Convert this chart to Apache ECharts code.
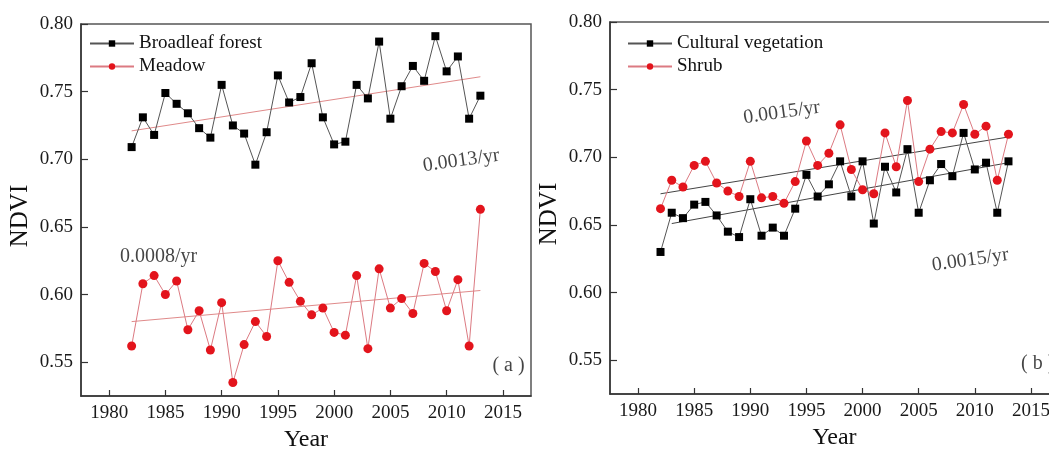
<!DOCTYPE html>
<html><head><meta charset="utf-8">
<script src="https://cdn.jsdelivr.net/npm/echarts@6/dist/echarts.min.js"></script>
<style>html,body{margin:0;padding:0;background:#fff;overflow:hidden}#c{width:1049px;height:449px}</style>
</head><body><div id="c"></div>
<script>
// ---- data ----
const years = [1982,1983,1984,1985,1986,1987,1988,1989,1990,1991,1992,1993,1994,1995,1996,1997,1998,1999,2000,2001,2002,2003,2004,2005,2006,2007,2008,2009,2010,2011,2012,2013];
const broadleaf = [0.709,0.731,0.718,0.749,0.741,0.734,0.723,0.716,0.755,0.725,0.719,0.696,0.720,0.762,0.742,0.746,0.771,0.731,0.711,0.713,0.755,0.745,0.787,0.730,0.754,0.769,0.758,0.791,0.765,0.776,0.730,0.747];
const meadow = [0.562,0.608,0.614,0.600,0.610,0.574,0.588,0.559,0.594,0.535,0.563,0.580,0.569,0.625,0.609,0.595,0.585,0.590,0.572,0.570,0.614,0.560,0.619,0.590,0.597,0.586,0.623,0.617,0.588,0.611,0.562,0.663];
const cultural = [0.630,0.659,0.655,0.665,0.667,0.657,0.645,0.641,0.669,0.642,0.648,0.642,0.662,0.687,0.671,0.680,0.697,0.671,0.697,0.651,0.693,0.674,0.706,0.659,0.683,0.695,0.686,0.718,0.691,0.696,0.659,0.697];
const shrub = [0.662,0.683,0.678,0.694,0.697,0.681,0.675,0.671,0.697,0.670,0.671,0.666,0.682,0.712,0.694,0.703,0.724,0.691,0.676,0.673,0.718,0.693,0.742,0.682,0.706,0.719,0.718,0.739,0.717,0.723,0.683,0.717];
// trend line end points
const broadleafTrend = [[1982,0.721],[2013,0.761]];
const meadowTrend = [[1982,0.580],[2013,0.603]];
const shrubTrend = [[1982,0.673],[2013,0.715]];
const culturalTrend = [[1983,0.651],[2013,0.696]];
// tick labels
const xTicks = [1980,1985,1990,1995,2000,2005,2010,2015];
const yTicks = [0.55,0.60,0.65,0.70,0.75,0.80];
// annotations [x, y, text, rotation]
const notesA = [[2011.3,0.699,'0.0013/yr',8],[1984.4,0.628,'0.0008/yr',0],[2015.5,0.547,'( a )',0]];
const notesB = [[1992.8,0.733,'0.0015/yr',8],[2009.6,0.624,'0.0015/yr',8],[2015.6,0.547,'( b )',0]];

const FONT = 'Liberation Serif';
const pair = (vals) => years.map((y,i)=>[y, vals[i]]);

function xAxis(g){
  return {type:'value', gridIndex:g, min:1977.5, max:2017.5,
    axisLine:{onZero:false, lineStyle:{color:'#333', width:1.5}},
    axisTick:{inside:true, length:6, customValues:xTicks, lineStyle:{color:'#333', width:1.2}},
    axisLabel:{customValues:xTicks, formatter:(v)=>String(Math.round(v)), fontFamily:FONT, fontSize:19, color:'#1a1a1a', margin:8},
    splitLine:{show:false},
    name:'Year', nameLocation:'middle', nameGap:32,
    nameTextStyle:{fontFamily:FONT, fontSize:24, color:'#111'}};
}
function yAxis(g){
  return {type:'value', gridIndex:g, min:0.525, max:0.80,
    axisLine:{show:true, onZero:false, lineStyle:{color:'#333', width:1.5}},
    axisTick:{show:true, inside:true, length:7, customValues:yTicks, lineStyle:{color:'#333', width:1.2}},
    axisLabel:{customValues:yTicks, formatter:(v)=>Number(v).toFixed(2), fontFamily:FONT, fontSize:19, color:'#1a1a1a', margin:8},
    splitLine:{show:false},
    name:'NDVI', nameLocation:'middle', nameGap:48, nameRotate:90,
    nameTextStyle:{fontFamily:FONT, fontSize:25, color:'#111', padding:[0,0,0,-12]}};
}
function dataSeries(name, vals, g, sym, size, markColor, lineColor){
  return {name, type:'line', xAxisIndex:g, yAxisIndex:g, data:pair(vals),
    symbol:sym, symbolSize:size, showSymbol:true,
    itemStyle:{color:markColor, borderWidth:0},
    lineStyle:{color:lineColor, width:1}, z:3, animation:false};
}
function trend(pts, g, color){
  return {type:'line', xAxisIndex:g, yAxisIndex:g, data:pts, symbol:'none',
    lineStyle:{color, width:1}, z:2, silent:true, animation:false};
}
function notes(list, g){
  return {type:'scatter', xAxisIndex:g, yAxisIndex:g, symbolSize:0, silent:true, animation:false,
    data:list.map(n=>({value:[n[0],n[1]], name:n[2], label:{rotate:n[3]}})),
    label:{show:true, position:'inside', formatter:'{b}', fontFamily:FONT, fontSize:20, color:'#151515'}};
}

const chart = echarts.init(document.getElementById('c'), null, {renderer:'canvas'});
chart.setOption({
  backgroundColor:'#fff',
  animation:false,
  grid:[
    {left:81, top:24, width:450, height:372, show:true, borderColor:'#555', borderWidth:1.5, outerBoundsMode:'none', containLabel:false},
    {left:610, top:22, width:449, height:372, show:true, borderColor:'#555', borderWidth:1.5, outerBoundsMode:'none', containLabel:false}
  ],
  xAxis:[xAxis(0), xAxis(1)],
  yAxis:[yAxis(0), yAxis(1)],
  legend:[
    {data:['Broadleaf forest','Meadow'], orient:'vertical', left:84, top:29, itemWidth:44, itemHeight:8, itemGap:4,
     textStyle:{fontFamily:FONT, fontSize:19, color:'#111'}},
    {data:['Cultural vegetation','Shrub'], orient:'vertical', left:622, top:29, itemWidth:44, itemHeight:8, itemGap:4,
     textStyle:{fontFamily:FONT, fontSize:19, color:'#111'}}
  ],
  series:[
    trend(broadleafTrend,0,'#e08a8a'),
    trend(meadowTrend,0,'#e08a8a'),
    dataSeries('Broadleaf forest', broadleaf, 0, 'rect', 8, '#000', '#555'),
    dataSeries('Meadow', meadow, 0, 'circle', 9, '#e3141c', '#dc7a82'),
    notes(notesA,0),
    trend(shrubTrend,1,'#444'),
    trend(culturalTrend,1,'#444'),
    dataSeries('Cultural vegetation', cultural, 1, 'rect', 8, '#000', '#555'),
    dataSeries('Shrub', shrub, 1, 'circle', 9, '#e3141c', '#dc7a82'),
    notes(notesB,1)
  ]
});
</script></body></html>
